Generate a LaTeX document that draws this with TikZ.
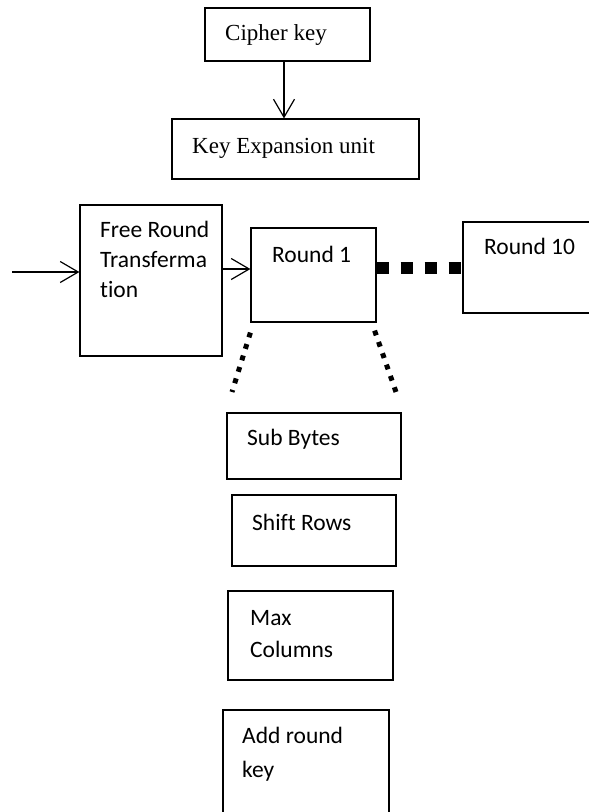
\documentclass[tikz,border=0pt]{standalone}
\usepackage{fontspec}
\setmainfont{Liberation Serif}
\newfontfamily\calfont[Ligatures={NoCommon}]{Carlito}
\usetikzlibrary{arrows.meta}
\begin{document}
\begin{tikzpicture}[x=1pt,y=-1pt,
  box/.style={draw, line width=1.2pt, inner sep=0pt, rectangle},
  serif/.style={anchor=base west, inner sep=0pt, font=\fontsize{23}{28}\selectfont},
  sans/.style={anchor=base west, inner sep=0pt, font=\calfont\fontsize{23.5}{28}\selectfont},
  arr/.style={line width=1.2pt, -{Straight Barb[length=18pt,width=21pt,line width=1.2pt]}},
  bigdots/.style={line width=12pt, dash pattern=on 12pt off 12pt},
  smalldots/.style={line width=5pt, dash pattern=on 5pt off 7pt}
]
\clip (0,0) rectangle (589,812);
\fill[white] (0,0) rectangle (589,812);
% boxes
\node[box, minimum width=165pt, minimum height=53pt] (ck) at (287.5,34.5) {};
\node[box, minimum width=247pt, minimum height=60pt] (ke) at (295.5,149) {};
\node[box, minimum width=142pt, minimum height=151pt] (frt) at (151,280.5) {};
\node[box, minimum width=125pt, minimum height=94pt] (r1) at (313.5,275) {};
\node[box, minimum width=140pt, minimum height=91pt] (r10) at (533,267.5) {};
\node[box, minimum width=174pt, minimum height=66pt] (sb) at (314,446) {};
\node[box, minimum width=164pt, minimum height=71pt] (sr) at (314,530.5) {};
\node[box, minimum width=165pt, minimum height=89pt] (mc) at (310.5,635.5) {};
\node[box, minimum width=166pt, minimum height=130pt] (ark) at (306,775) {};
% texts
\node[serif] (ckt) at (225,40) {Cipher key};
\node[serif] (ket) at (192,153) {Key Expansion unit};
\node[sans] (frt1) at (100,237) {Free Round};
\node[sans] (frt2) at (100,267) {Transferma};
\node[sans] (frt3) at (100,297) {tion};
\node[sans] (r1t) at (272,262) {Round 1};
\node[sans] (r10t) at (484,254) {Round 10};
\node[sans] (sbt) at (247,445) {Sub Bytes};
\node[sans] (srt) at (252,530) {Shift Rows};
\node[sans] (mct1) at (250,625) {Max};
\node[sans] (mct2) at (250,657) {Columns};
\node[sans] (arkt1) at (242,743) {Add round};
\node[sans] (arkt2) at (242,777) {key};
% connectors
\draw[arr] ([xshift=-3.5pt]ck.south) -- ([xshift=-3.5pt]ck.south |- ke.north);
\coordinate (in) at (12,272);
\draw[arr] (in) -- (in -| frt.west);
\draw[arr] ([yshift=6pt]r1.west -| frt.east) -- ([yshift=6pt]r1.west);
\draw[bigdots] (r10.west -| r1.east) -- (r10.west);
\coordinate (dl) at (232,392);
\coordinate (dr) at (396,392);
\draw[smalldots] ([yshift=-10pt]r1.south west) -- (dl);
\draw[smalldots] ([yshift=-8pt,xshift=-2pt]r1.south east) -- (dr);
\end{tikzpicture}
\end{document}
